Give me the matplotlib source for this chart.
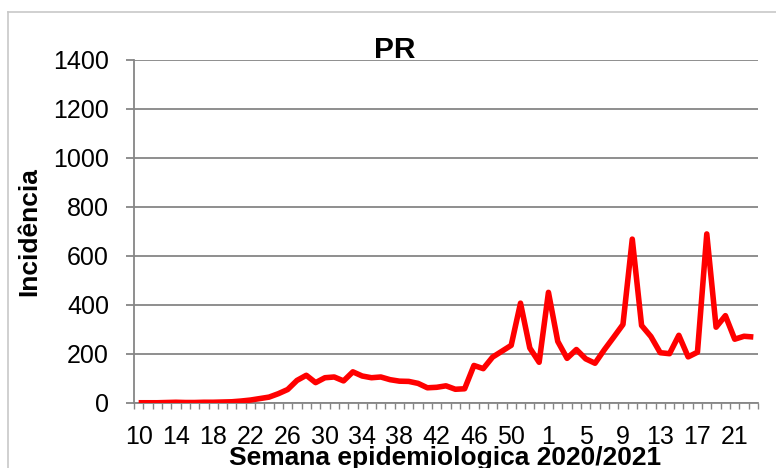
import matplotlib.pyplot as plt
from matplotlib.lines import Line2D

# epidemiological weeks: 2020 (10..53) then 2021 (1..23)
weeks_2020 = list(range(10, 54))
weeks_2021 = list(range(1, 24))
weeks = weeks_2020 + weeks_2021

incidence_2020 = [1, 1, 1, 2, 3, 2, 2, 3, 3, 4,
                  5, 8, 12, 18, 24, 38, 55, 92, 113, 83,
                  103, 106, 90, 127, 110, 103, 106, 95, 89, 88,
                  80, 62, 64, 70, 56, 58, 153, 140, 187, 211,
                  235, 407, 224, 166]
incidence_2021 = [451, 251, 182, 218, 180, 162, 217, 268, 320, 668,
                  316, 271, 205, 201, 276, 188, 207, 689, 309, 356,
                  260, 272, 269]
incidence = incidence_2020 + incidence_2021

title = "PR"
xlabel = "Semana epidemiologica 2020/2021"
ylabel = "Incidência"
yticks = [0, 200, 400, 600, 800, 1000, 1200, 1400]

W, H = 776, 468
fig = plt.figure(figsize=(W / 100, H / 100), dpi=100)
ax = fig.add_axes([134 / W, 1 - 403 / H, 624 / W, (403 - 59.5) / H])

x = list(range(len(weeks)))
ax.plot(x, incidence, color="#ff0000", lw=4.0, solid_joinstyle="round",
        solid_capstyle="butt", zorder=3)

grid = "#868686"
ax.set_ylim(0, 1400)
ax.set_yticks(yticks)
ax.set_yticklabels([str(v) for v in yticks])
ax.yaxis.grid(True, color=grid, lw=1.3)
ax.set_axisbelow(True)

ax.set_xlim(-0.5, len(weeks) - 0.5)
# tick marks between categories, labels every 4th week
ax.set_xticks([i - 0.5 for i in range(len(weeks) + 1)])
ax.set_xticklabels([])
lab_idx = list(range(0, len(weeks), 4))
ax.set_xticks(lab_idx, minor=True)
ax.set_xticklabels([str(weeks[i]) for i in lab_idx], minor=True)

for s in ["top", "right"]:
    ax.spines[s].set_visible(False)
for s in ["left", "bottom"]:
    ax.spines[s].set_color(grid)
    ax.spines[s].set_linewidth(1.3)

ax.tick_params(axis="y", length=6, width=1.3, color=grid, pad=12,
               labelsize=18)
ax.tick_params(axis="x", which="major", length=4.5, width=1.0, color=grid)
ax.tick_params(axis="x", which="minor", length=0, pad=16, labelsize=18)
for t in ax.get_xticklabels(minor=True) + ax.get_yticklabels():
    t.set_family(["Liberation Sans", "DejaVu Sans"])

bold_font = ["Liberation Sans", "DejaVu Sans"]
fig.text(395 / W, 1 - 50.5 / H, title, ha="center", va="center",
         fontsize=21.5, fontweight="bold", family=bold_font)
fig.text(445 / W, 1 - 465 / H, xlabel, ha="center", va="baseline",
         fontsize=19, fontweight="bold", family=bold_font)
fig.text(29 / W, 1 - 232 / H, ylabel, ha="center", va="center",
         rotation=90, fontsize=19, fontweight="bold", family=bold_font)

# chart area border (only top and left edges are visible in the crop)
border = "#c8c8c8"
fig.add_artist(Line2D([8 / W, 1], [1 - 12 / H, 1 - 12 / H], color=border,
                      lw=1.2, transform=fig.transFigure))
fig.add_artist(Line2D([8 / W, 8 / W], [0, 1 - 12 / H], color=border,
                      lw=1.2, transform=fig.transFigure))

fig.savefig("out.png", dpi=100)
